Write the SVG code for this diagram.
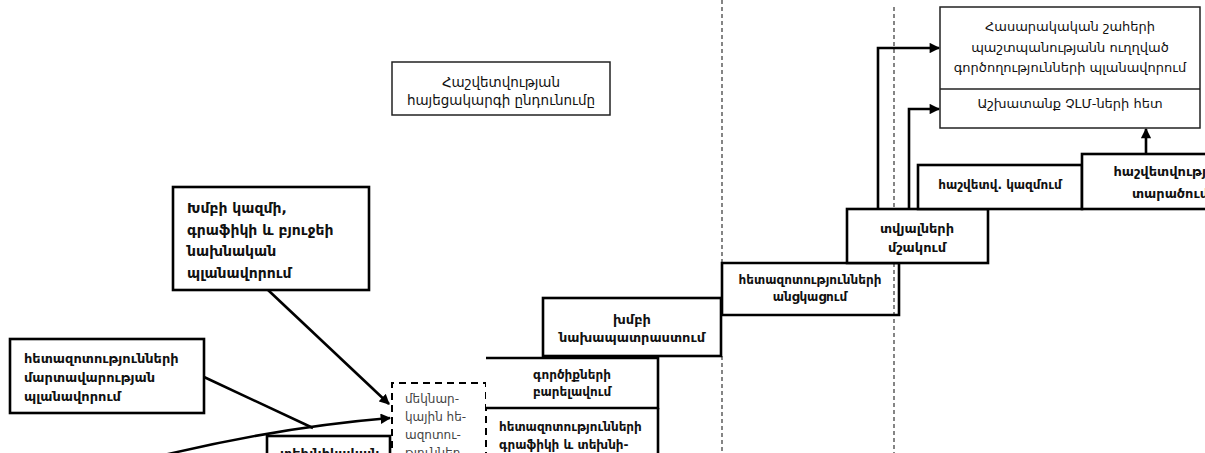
<svg xmlns="http://www.w3.org/2000/svg" width="1205" height="453" viewBox="0 0 1205 453">
<style>
text{font-family:"DejaVu Sans","Noto Sans",sans-serif;fill:#111}
.b{font-weight:bold;font-size:13px}
.s{font-size:12px}
.r{font-weight:normal;font-size:13px}
.c{text-anchor:middle}
.box{fill:#fff;stroke:#000;stroke-width:2.6}
.thin{fill:#fff;stroke:#222;stroke-width:1.5}
.edge{fill:none;stroke:#000;stroke-width:2.6}
.guide{fill:none;stroke:#444;stroke-width:1.3;stroke-dasharray:4 3}
.con{fill:none;stroke:#000;stroke-width:2.6}
</style>
<defs>
<marker id="ah" viewBox="0 0 10 10" refX="9" refY="5" markerWidth="4.2" markerHeight="4" orient="auto" markerUnits="strokeWidth">
<polygon points="0,0 10,5 0,10" fill="#000"/>
</marker>
</defs>
<g id="guides">
<path class="guide" d="M722 0 V263 M722 356 V453 M894 7 V209 M894 263 V453"/>
</g>
<g id="n-concept">
<rect class="thin" x="392" y="62" width="218" height="53"/>
<text class="r c" x="501" y="87" style="font-size:13.5px">Հաշվետվության</text>
<text class="r c" x="501" y="105" style="font-size:13.5px">հայեցակարգի ընդունումը</text>
</g>
<g id="n-team-plan">
<rect class="box" x="173" y="187" width="196" height="103"/>
<text class="b" x="187" y="213" style="font-size:14px">Խմբի կազմի,</text>
<text class="b" x="187" y="234.5" style="font-size:14px">գրաֆիկի և բյուջեի</text>
<text class="b" x="187" y="256" style="font-size:14px">նախնական</text>
<text class="b" x="187" y="277.5" style="font-size:14px">պլանավորում</text>
</g>
<g id="n-strategy">
<rect class="box" x="10" y="339" width="194" height="74"/>
<text class="b" x="24" y="363">հետազոտությունների</text>
<text class="b" x="24" y="382">մարտավարության</text>
<text class="b" x="24" y="401">պլանավորում</text>
</g>
<g id="n-technical">
<rect class="box" x="267" y="436" width="123" height="30"/>
<text class="b" x="280" y="458">տեխնիկական</text>
</g>
<g id="n-pilot">
<path d="M392 460 V383 H486 V460" fill="#fff" stroke="#000" stroke-width="2" stroke-dasharray="7 5"/>
<text class="s" x="405" y="403" style="fill:#444">մեկնար-</text>
<text class="s" x="405" y="421" style="fill:#444">կային հե-</text>
<text class="s" x="405" y="439" style="fill:#444">ազոտու-</text>
<text class="s" x="405" y="457" style="fill:#444">թյուններ</text>
</g>
<g id="n-team-prep">
<rect class="box" x="543" y="298" width="178" height="58"/>
<text class="b c" x="632" y="324">խմբի</text>
<text class="b c" x="632" y="342">նախապատրաստում</text>
</g>
<g id="n-tools">
<rect x="486" y="358" width="172" height="50" fill="#fff"/>
<path class="edge" d="M486 358 H658 V408 H486"/>
<text class="b c s" x="572" y="379" style="font-weight:bold">գործիքների</text>
<text class="b c s" x="572" y="396" style="font-weight:bold">բարելավում</text>
</g>
<g id="n-schedule">
<path class="edge" d="M658 408 V460"/>
<text class="b s" x="499" y="431" style="font-weight:bold">հետազոտությունների</text>
<text class="b s" x="499" y="449" style="font-weight:bold">գրաֆիկի և  տեխնի-</text>
</g>
<g id="n-conduct">
<path class="edge" d="M722 315 V263 H899 V315 H722"/>
<text class="b c s" x="810" y="284" style="font-weight:bold">հետազոտությունների</text>
<text class="b c s" x="810" y="301" style="font-weight:bold">անցկացում</text>
</g>
<g id="n-processing">
<rect class="box" x="847" y="209" width="141" height="54"/>
<text class="b c" x="917" y="233">տվյալների</text>
<text class="b c" x="917" y="252">մշակում</text>
</g>
<g id="n-drafting">
<rect class="box" x="918" y="165" width="164" height="44"/>
<text class="b c s" x="1000" y="189" style="font-weight:bold">հաշվետվ. կազմում</text>
</g>
<g id="n-dissemination">
<rect class="box" x="1082" y="154" width="140" height="55"/>
<text class="b c" x="1170" y="176">հաշվետվության</text>
<text class="b c" x="1170" y="198">տարածում</text>
</g>
<g id="n-advocacy">
<rect class="thin" x="940" y="7" width="260" height="121"/>
<line x1="940" y1="89" x2="1200" y2="89" stroke="#222" stroke-width="1.5"/>
<text class="r c" x="1070" y="31">Հասարակական շահերի</text>
<text class="r c" x="1070" y="52">պաշտպանությանն ուղղված</text>
<text class="r c" x="1070" y="72">գործողությունների պլանավորում</text>
<text class="r c" x="1070" y="108">Աշխատանք ՉԼՄ-ների հետ</text>
</g>
<g id="connectors">
<path class="con" d="M268 290 L389 404" marker-end="url(#ah)"/>
<path class="con" d="M204 377 L313 428"/>
<path class="con" d="M160 456 Q280 427 390 418" marker-end="url(#ah)"/>
<path class="con" d="M878 209 V48 H939" marker-end="url(#ah)"/>
<path class="con" d="M909 209 V109 H939" marker-end="url(#ah)"/>
<path class="con" d="M1146 154 V129" marker-end="url(#ah)"/>
</g>
</svg>
